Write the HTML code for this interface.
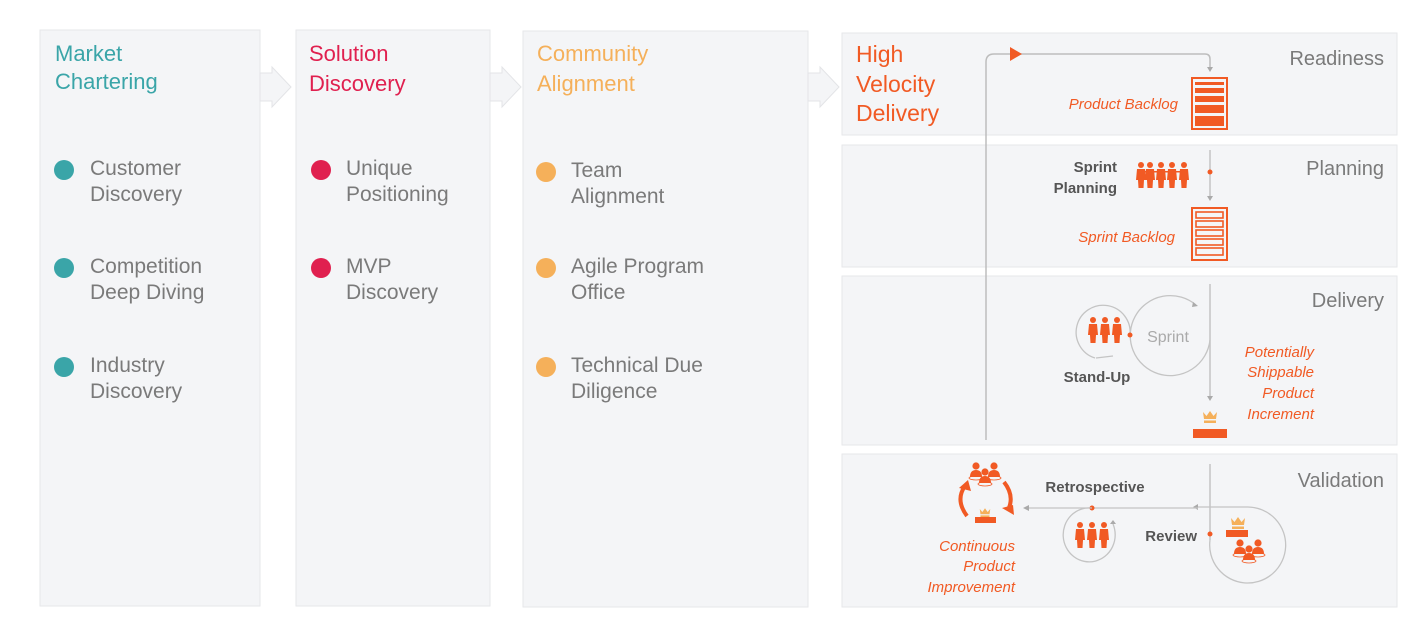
<!DOCTYPE html>
<html><head><meta charset="utf-8"><style>
html,body{margin:0;padding:0;background:#fff;}
svg{display:block;}
text{font-family:"Liberation Sans",sans-serif;}
</style></head><body>
<svg width="1428" height="634" viewBox="0 0 1428 634" xmlns="http://www.w3.org/2000/svg">
<defs>
<g id="person"><circle cx="0" cy="-13" r="3"/><path d="M-4 -9 H4 L5 2 H3 L2.5 10 H-2.5 L-3 2 H-5 Z"/></g>
<g id="pawn"><circle cx="0" cy="-6" r="3.6"/><path d="M-6 5 Q-6 -2 0 -2 Q6 -2 6 5 Z"/><ellipse cx="0" cy="6" rx="7" ry="2" fill="none" stroke="#f15a24" stroke-width="0.8"/></g>
<g id="crown"><path d="M-7 -4 L-3.5 0 L0 -5 L3.5 0 L7 -4 L6 3 H-6 Z" fill="#f5b05a"/><rect x="-6" y="4.5" width="12" height="2.5" fill="#f5b05a"/></g>
</defs>
<rect x="40" y="30" width="220" height="576" fill="#f4f5f7" stroke="#e6e7ea"/>
<rect x="296" y="30" width="194" height="576" fill="#f4f5f7" stroke="#e6e7ea"/>
<rect x="523" y="31" width="285" height="576" fill="#f4f5f7" stroke="#e6e7ea"/>
<rect x="842" y="33" width="555" height="102" fill="#f4f5f7" stroke="#e6e7ea"/>
<rect x="842" y="145" width="555" height="122" fill="#f4f5f7" stroke="#e6e7ea"/>
<rect x="842" y="276" width="555" height="169" fill="#f4f5f7" stroke="#e6e7ea"/>
<rect x="842" y="454" width="555" height="153" fill="#f4f5f7" stroke="#e6e7ea"/>
<g fill="#f4f5f7" stroke="#e3e4e7">
<path d="M260 73 H272 V67 L291 87 L272 107 V101 H260 Z"/>
<path d="M490 73 H502 V67 L521 87 L502 107 V101 H490 Z"/>
<path d="M808 73 H820 V67 L839 87 L820 107 V101 H808 Z"/>
</g>
<g font-size="22" fill="#3aa5a8"><text x="55" y="61">Market</text><text x="55" y="89">Chartering</text></g>
<g fill="#3aa5a8"><circle cx="64" cy="170" r="10"/><circle cx="64" cy="268" r="10"/><circle cx="64" cy="367" r="10"/></g>
<g font-size="21" fill="#7a7a7a">
<text x="90" y="175">Customer</text><text x="90" y="201">Discovery</text>
<text x="90" y="273">Competition</text><text x="90" y="299">Deep Diving</text>
<text x="90" y="372">Industry</text><text x="90" y="398">Discovery</text>
</g>
<g font-size="22" fill="#e0204f"><text x="309" y="61">Solution</text><text x="309" y="91">Discovery</text></g>
<g fill="#e0204f"><circle cx="321" cy="170" r="10"/><circle cx="321" cy="268" r="10"/></g>
<g font-size="21" fill="#7a7a7a">
<text x="346" y="175">Unique</text><text x="346" y="201">Positioning</text>
<text x="346" y="273">MVP</text><text x="346" y="299">Discovery</text>
</g>
<g font-size="22" fill="#f5b05a"><text x="537" y="61">Community</text><text x="537" y="91">Alignment</text></g>
<g fill="#f5b05a"><circle cx="546" cy="172" r="10"/><circle cx="546" cy="268" r="10"/><circle cx="546" cy="367" r="10"/></g>
<g font-size="21" fill="#7a7a7a">
<text x="571" y="177">Team</text><text x="571" y="203">Alignment</text>
<text x="571" y="273">Agile Program</text><text x="571" y="299">Office</text>
<text x="571" y="372">Technical Due</text><text x="571" y="398">Diligence</text>
</g>
<g font-size="23" fill="#f15a24"><text x="856" y="62">High</text><text x="856" y="92">Velocity</text><text x="856" y="121">Delivery</text></g>
<g font-size="20" fill="#7a7a7a" text-anchor="end">
<text x="1384" y="65">Readiness</text><text x="1384" y="175">Planning</text>
<text x="1384" y="307">Delivery</text><text x="1384" y="487">Validation</text>
</g>
<path d="M986 440 V62 Q986 54 994 54 H1205 Q1210 54 1210 59 V70" fill="none" stroke="#bdbdbd" stroke-width="1.5"/>
<path d="M1207 67 L1210 72 L1213 67 Z" fill="#aaa"/>
<path d="M1010 47 L1022 54 L1010 61 Z" fill="#f15a24"/>
<rect x="1192" y="78" width="35" height="51" fill="none" stroke="#f15a24" stroke-width="2"/>
<g fill="#f15a24"><rect x="1195" y="82" width="29" height="3"/><rect x="1195" y="88" width="29" height="5"/><rect x="1195" y="96" width="29" height="6"/><rect x="1195" y="105" width="29" height="8"/><rect x="1195" y="116" width="29" height="10"/></g>
<text x="1178" y="109" font-size="15" font-style="italic" fill="#f15a24" text-anchor="end">Product Backlog</text>
<line x1="1210" y1="150" x2="1210" y2="198" stroke="#c4c4c4" stroke-width="1.5"/>
<path d="M1207 196 L1210 201 L1213 196 Z" fill="#aaa"/>
<circle cx="1210" cy="172" r="2.5" fill="#f15a24"/>
<g font-size="15" font-weight="bold" fill="#555" text-anchor="end"><text x="1117" y="172">Sprint</text><text x="1117" y="193">Planning</text></g>
<g fill="#f15a24">
<use href="#person" x="1141" y="178"/><use href="#person" x="1150" y="178"/><use href="#person" x="1161" y="178"/><use href="#person" x="1172" y="178"/><use href="#person" x="1184" y="178"/>
<rect x="1143" y="171" width="38" height="1.5"/>
</g>
<rect x="1192" y="208" width="35" height="52" fill="none" stroke="#f15a24" stroke-width="2"/>
<g fill="none" stroke="#f15a24" stroke-width="1.6"><rect x="1196" y="212" width="27" height="6"/><rect x="1196" y="221" width="27" height="6"/><rect x="1196" y="230" width="27" height="6"/><rect x="1196" y="239" width="27" height="6"/><rect x="1196" y="248" width="27" height="7"/></g>
<text x="1175" y="242" font-size="15" font-style="italic" fill="#f15a24" text-anchor="end">Sprint Backlog</text>
<line x1="1210" y1="284" x2="1210" y2="398" stroke="#c4c4c4" stroke-width="1.5"/>
<path d="M1207 396 L1210 401 L1213 396 Z" fill="#aaa"/>
<path d="M1196 305 A40 40 0 1 0 1210 340" fill="none" stroke="#c4c4c4" stroke-width="1.3"/>
<path d="M1193 302 L1198 306 L1192 307 Z" fill="#aaa"/>
<path d="M1130 335 A27 27 0 1 0 1095 358" fill="none" stroke="#c4c4c4" stroke-width="1.3"/>
<path d="M1113 356 L1096 358" fill="none" stroke="#c4c4c4" stroke-width="1.3"/>
<text x="1168" y="342" font-size="16" fill="#aaa" text-anchor="middle">Sprint</text>
<g fill="#f15a24"><use href="#person" x="1093" y="333"/><use href="#person" x="1105" y="333"/><use href="#person" x="1117" y="333"/></g>
<circle cx="1130" cy="335" r="2.5" fill="#f15a24"/>
<text x="1097" y="382" font-size="15" font-weight="bold" fill="#555" text-anchor="middle">Stand-Up</text>
<use href="#crown" x="1210" y="416"/>
<rect x="1193" y="429" width="34" height="9" fill="#f15a24"/>
<g font-size="15" font-style="italic" fill="#f15a24" text-anchor="end"><text x="1314" y="357">Potentially</text><text x="1314" y="377">Shippable</text><text x="1314" y="398">Product</text><text x="1314" y="419">Increment</text></g>
<line x1="1210" y1="464" x2="1210" y2="540" stroke="#c4c4c4" stroke-width="1.5"/>
<path d="M1210 540 A38 38 0 1 0 1248 507 H1198" fill="none" stroke="#c4c4c4" stroke-width="1.3"/>
<path d="M1198 504 L1193 507 L1198 510 Z" fill="#aaa"/>
<circle cx="1210" cy="534" r="2.5" fill="#f15a24"/>
<use href="#crown" x="1238" y="522"/>
<rect x="1226" y="530" width="22" height="7" fill="#f15a24"/>
<g fill="#f15a24"><use href="#pawn" x="1240" y="549"/><use href="#pawn" x="1258" y="549"/><use href="#pawn" x="1249" y="555"/></g>
<text x="1197" y="541" font-size="15" font-weight="bold" fill="#555" text-anchor="end">Review</text>
<line x1="1198" y1="508" x2="1028" y2="508" stroke="#c4c4c4" stroke-width="1.3"/>
<path d="M1029 505 L1023 508 L1029 511 Z" fill="#aaa"/>
<circle cx="1092" cy="508" r="2.5" fill="#f15a24"/>
<path d="M1113 524 A26 27 0 1 1 1092 508" fill="none" stroke="#c4c4c4" stroke-width="1.3"/>
<path d="M1110 524 L1113 520 L1116 524 Z" fill="#aaa"/>
<g fill="#f15a24"><use href="#person" x="1080" y="538"/><use href="#person" x="1092" y="538"/><use href="#person" x="1104" y="538"/></g>
<text x="1095" y="492" font-size="15" font-weight="bold" fill="#555" text-anchor="middle">Retrospective</text>
<g fill="#f15a24"><use href="#pawn" x="976" y="472"/><use href="#pawn" x="994" y="472"/><use href="#pawn" x="985" y="478"/></g>
<path d="M967 516 Q955 500 965 486" fill="none" stroke="#f15a24" stroke-width="4"/>
<path d="M959 488 L968 480 L971 491 Z" fill="#f15a24"/>
<path d="M1004 482 Q1015 496 1008 510" fill="none" stroke="#f15a24" stroke-width="4"/>
<path d="M1002 508 L1014 515 L1013 505 Z" fill="#f15a24"/>
<use href="#crown" x="985" y="512" transform="translate(985,512) scale(0.75) translate(-985,-512)"/>
<rect x="975" y="517" width="21" height="6" fill="#f15a24"/>
<g font-size="15" font-style="italic" fill="#f15a24" text-anchor="end"><text x="1015" y="551">Continuous</text><text x="1015" y="571">Product</text><text x="1015" y="592">Improvement</text></g>
</svg>
</body></html>
